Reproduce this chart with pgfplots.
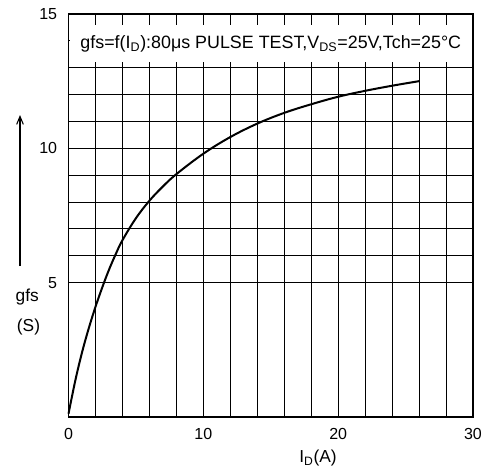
\documentclass[border=0pt]{standalone}
\usepackage{fontspec}
\setmainfont{Liberation Sans}
\usepackage{pgfplots}
\pgfplotsset{compat=1.18}
\usetikzlibrary{calc,arrows.meta}

\pgfplotstableread{
x y
0 0.12
0.5 1.35
1 2.4
1.5 3.3
2 4.1
2.5 4.82
3 5.48
3.5 6.06
4 6.58
5 7.4
6 8.05
7 8.58
8 9.04
10 9.8
12 10.42
14 10.92
16 11.32
18 11.64
20 11.92
22 12.14
24 12.33
26 12.5
}\gfscurve

\begin{document}
\begin{tikzpicture}
\begin{axis}[
    name=ax,
    width=303.4pt, height=302.3pt,
    scale only axis,
    xmin=0, xmax=30, ymin=0, ymax=15,
    xtick={0,10,20,30},
    ytick={5,10,15},
    minor x tick num=4,
    minor y tick num=4,
    major tick length=0pt, minor tick length=0pt,
    grid=both,
    major grid style={black, line width=0.9pt},
    minor grid style={black, line width=0.8pt},
    axis line style={black, line width=1.4pt},
    tick label style={font=\fontsize{12}{14}\selectfont},
    /pgf/number format/assume math mode=true,
    xticklabel style={yshift=-5pt},
    yticklabel style={xshift=-5pt},
    clip=false,
]
\addplot[black, line width=1.5pt, smooth, tension=0.6] table[x=x,y=y] {\gfscurve};

% title box
\fill[white] (axis cs:0.1,13.2) rectangle (axis cs:29.9,14.6);
\node[font=\fontsize{13.4}{15}\selectfont, inner sep=0pt] at (axis cs:15,13.9)
  {gfs=f(I\textsubscript{D}):80μs PULSE TEST,V\textsubscript{DS}=25V,Tch=25°C};

% axis labels
\node[font=\fontsize{13}{15}\selectfont] at (axis cs:0,4.47) [xshift=-31pt] {gfs};
\node[font=\fontsize{13}{15}\selectfont] at (axis cs:0,3.35) [xshift=-30pt] {(S)};
\draw[line width=0.8pt, -{Straight Barb[length=6pt,width=5pt]}]
  ([xshift=-36.4pt]axis cs:0,5.62) -- ([xshift=-36.4pt]axis cs:0,11.24);
\node[font=\fontsize{13}{15}\selectfont] at (axis cs:18.5,0) [yshift=-30.75pt] {I\textsubscript{D}(A)};

\coordinate (bl) at (rel axis cs:0,0);
\coordinate (tr) at (rel axis cs:1,1);
\end{axis}
\pgfresetboundingbox
\path ($(bl)+(-51.4pt,-39.75pt)$) rectangle ($(tr)+(6.75pt,10.5pt)$);
\end{tikzpicture}
\end{document}
